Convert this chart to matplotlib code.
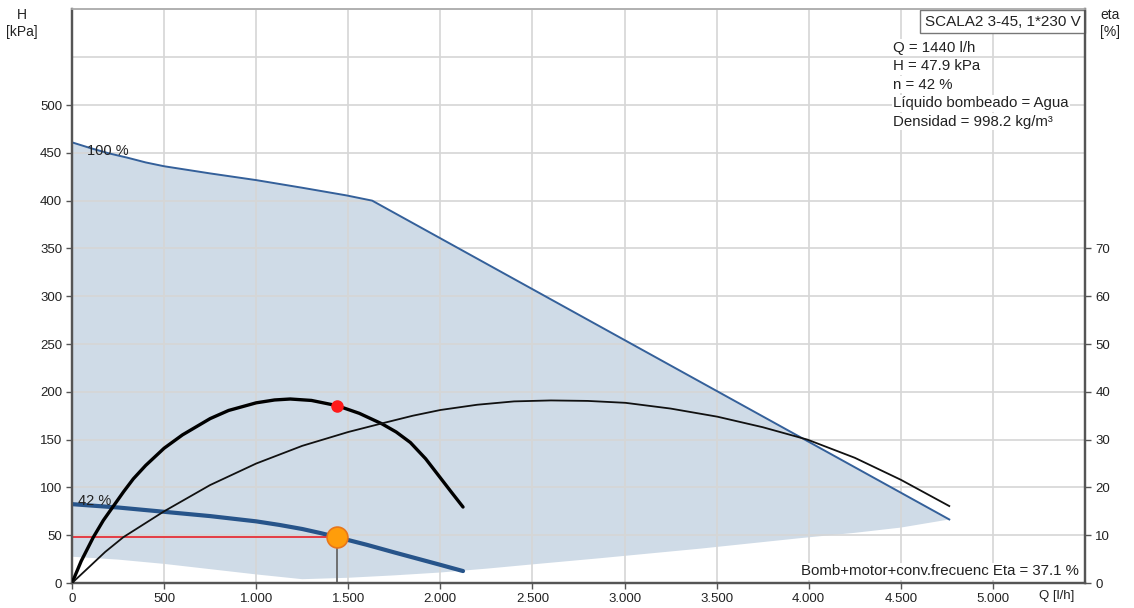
import matplotlib
matplotlib.use("Agg")
import matplotlib.pyplot as plt
from matplotlib.ticker import FuncFormatter

plt.rcParams['font.family'] = ['Liberation Sans', 'DejaVu Sans']

# operating range: upper edge (100 % speed curve) and lower edge
q_max = [0, 100, 200, 300, 400, 500, 750, 1000, 1250, 1490, 1630, 4763]
h_max = [461, 455, 449.5, 445, 440, 436, 428.5, 421.5, 413.5, 405.5, 400, 66.5]
q_min = [0, 250, 500, 750, 1000, 1250, 1500, 1750, 2000, 2250, 2500, 2870,
         3413, 3957, 4250, 4500, 4763]
h_min = [27.5, 24.5, 20, 14.5, 9, 4, 5.5, 8, 11, 15, 19.5, 26,
         36, 47, 52.5, 58, 66.5]

# pump curve at 42 % speed
q_42 = [0, 250, 500, 750, 1000, 1125, 1250, 1350, 1440, 1600, 1750, 2000, 2123]
h_42 = [82.5, 79, 74.5, 70, 64.5, 60.8, 56.5, 52.2, 47.9, 40, 32, 19, 12.5]

# efficiency curves (right axis, %)
q_eta42 = [0, 50, 116, 170, 225, 280, 333, 400, 500, 600, 750, 850, 1000,
           1100, 1185, 1300, 1440, 1560, 1683, 1760, 1837, 1920, 2000, 2060, 2123]
eta_42 = [0, 4.6, 9.6, 13.1, 16.1, 19.1, 21.8, 24.6, 28.2, 31.0, 34.4, 36.1, 37.7,
          38.3, 38.5, 38.2, 37.1, 35.5, 33.3, 31.6, 29.4, 26.0, 22.0, 19.0, 15.9]
q_eta100 = [0, 100, 180, 279, 500, 750, 1000, 1250, 1500, 1683, 1850, 2000, 2200,
            2400, 2600, 2800, 3005, 3250, 3504, 3750, 3993, 4250, 4500, 4763]
eta_100 = [0, 3.6, 6.5, 9.6, 15.0, 20.5, 25.0, 28.7, 31.6, 33.4, 35.0, 36.2, 37.3,
           38.0, 38.2, 38.1, 37.7, 36.5, 34.8, 32.6, 30.0, 26.2, 21.6, 16.1]

# duty point
q_duty = 1440
h_duty = 47.9
eta_duty = 37.1

eta_ticks = [0, 10, 20, 30, 40, 50, 60, 70]

info_lines = ["Q = 1440 l/h", "H = 47.9 kPa", "n = 42 %",
              "Líquido bombeado = Agua", "Densidad = 998.2 kg/m³"]

FILL = "#cfdbe7"
BLUE = "#27548a"
AXC = "#555555"
GRID = "#d6d6d6"
TXT = "#222222"

fig = plt.figure(figsize=(11.34, 6.08), dpi=100)
ax = fig.add_axes([0.0635, 0.0411, 0.8933, 0.9433])
ax2 = ax.twinx()

ax.set_xlim(0, 5500)
ax.set_ylim(0, 600)
ax2.set_ylim(0, 120)

# shaded region between upper and lower edge
poly_x = [0] + q_max + q_min[::-1]
poly_y = [h_min[0]] + h_max + h_min[::-1]
ax.fill(poly_x, poly_y, color=FILL, lw=0, zorder=0.2)

ax.set_axisbelow(True)
ax.set_xticks(list(range(0, 5501, 500)))
ax.set_yticks(list(range(0, 601, 50)))
ax.grid(True, color=GRID, lw=1.2)

ax.plot(q_max, h_max, color="#34609a", lw=1.4, zorder=3)
ax.plot(q_42, h_42, color=BLUE, lw=3, zorder=3, solid_capstyle="round",
        solid_joinstyle="round")

# duty point guides
ax.plot([0, q_duty], [h_duty, h_duty], color="#e8222a", lw=1.2, zorder=3)
ax.plot([q_duty, q_duty], [0, h_duty], color="#666666", lw=1.3, zorder=3)
ax.plot([q_duty], [h_duty], marker="o", ms=15, mfc="#ff9d0a", mec="#e8761a",
        mew=1.2, zorder=5)

ax2.plot(q_eta42, eta_42, color="black", lw=2.4, solid_capstyle="round",
         solid_joinstyle="round", zorder=3)
ax2.plot(q_eta100, eta_100, color="#111111", lw=1.3, solid_joinstyle="round", zorder=3)
ax2.plot([q_duty], [eta_duty], marker="o", ms=8, color="#ff1a1a", zorder=5)

ax.text(80, 452, "100 %", fontsize=10.5, va="center", ha="left", color=TXT)
ax.text(35, 86, "42 %", fontsize=10.5, va="center", ha="left", color=TXT)

# ticks and labels
fmt = FuncFormatter(lambda v, p: f"{int(v):,}".replace(",", ".") if v <= 5000 else "")
ax.xaxis.set_major_formatter(fmt)
ax.yaxis.set_major_formatter(FuncFormatter(lambda v, p: f"{int(v)}" if v <= 500 else ""))
ax2.set_yticks(eta_ticks)
for a in (ax, ax2):
    a.tick_params(direction="out", length=4, width=1, color=AXC,
                  labelsize=9.5, labelcolor=TXT)
ax.tick_params(axis="y", pad=3)
ax.tick_params(axis="x", pad=3)
# no tick marks above 500 on the left axis or at 5500 on x
for t, v in zip(ax.yaxis.get_major_ticks(), range(0, 601, 50)):
    if v > 500:
        t.tick1line.set_visible(False)
for t, v in zip(ax.xaxis.get_major_ticks(), range(0, 5501, 500)):
    if v > 5000:
        t.tick1line.set_visible(False)

for a in (ax, ax2):
    for side in ("left", "bottom", "right"):
        a.spines[side].set_color(AXC)
        a.spines[side].set_linewidth(1.6)
    a.spines["top"].set_color("#b0b0b0")
    a.spines["top"].set_linewidth(1.2)

fig.text(22 / 1134, 1 - 15 / 608, "H", ha="center", va="center", fontsize=10, color=TXT)
fig.text(22 / 1134, 1 - 32 / 608, "[kPa]", ha="center", va="center", fontsize=10, color=TXT)
fig.text(1110 / 1134, 1 - 15 / 608, "eta", ha="center", va="center", fontsize=10, color=TXT)
fig.text(1110 / 1134, 1 - 32 / 608, "[%]", ha="center", va="center", fontsize=10, color=TXT)
ax.text(5440, -7, "Q [l/h]", ha="right", va="top", fontsize=9.5, color=TXT,
        clip_on=False)

ax.text(5475, 587, "SCALA2 3-45, 1*230 V", ha="right", va="center", fontsize=11,
        color=TXT, zorder=6,
        bbox=dict(boxstyle="square,pad=0.3", fc="white", ec="#777777", lw=1))
for i, line in enumerate(info_lines):
    ax.text(4460, 560 - i * 19.3, line, ha="left", va="center", fontsize=10.8,
            color=TXT, zorder=6,
            bbox=dict(boxstyle="square,pad=0.1", fc="white", ec="none"))

ax.text(5465, 12.5, "Bomb+motor+conv.frecuenc Eta = 37.1 %", ha="right", va="center",
        fontsize=10.8, color=TXT, zorder=6,
        bbox=dict(boxstyle="square,pad=0.1", fc="white", ec="none"))

fig.savefig("out.png", dpi=100)
